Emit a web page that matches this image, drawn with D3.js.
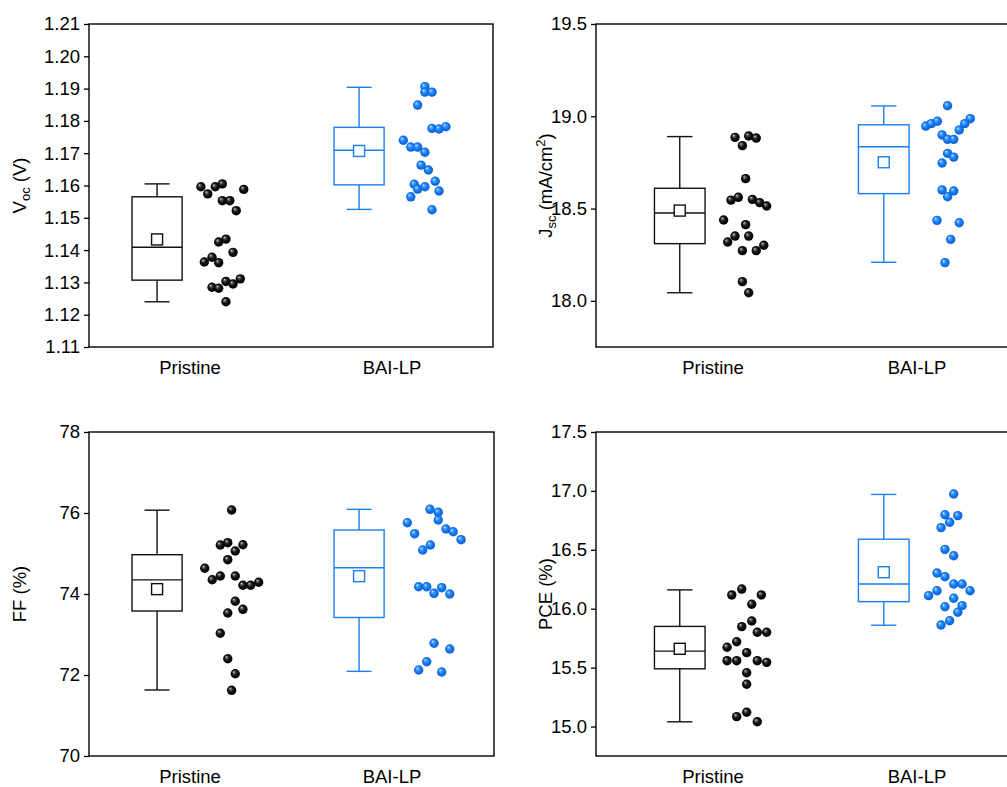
<!DOCTYPE html>
<html>
<head>
<meta charset="utf-8">
<script src="https://cdn.jsdelivr.net/npm/d3@7"></script>
<style>
  body { margin: 0; background: #fff; }
  svg { display: block; }
  text { font-family: "Liberation Sans", Arial, Helvetica, sans-serif; fill: #000; }
</style>
</head>
<body>
<svg id="chart" width="1007" height="787"></svg>
<script>
// ---- data ----
const groups = ["Pristine", "BAI-LP"];

// Voc (V)
const vocPristine = [1.1596, 1.1574, 1.1596, 1.1605, 1.1588, 1.1553, 1.1553, 1.1522, 1.1425, 1.1434,
                     1.1393, 1.1378, 1.1363, 1.1361, 1.1303, 1.1295, 1.1311, 1.1285, 1.1282, 1.1240];
const vocPristineJitter = [0.054, 0.088, 0.125, 0.160, 0.266, 0.160, 0.197, 0.229, 0.142, 0.178,
                           0.213, 0.109, 0.071, 0.142, 0.178, 0.213, 0.249, 0.109, 0.142, 0.178];
const vocBai = [1.1906, 1.1889, 1.1889, 1.1849, 1.1777, 1.1775, 1.1782, 1.1740, 1.1719, 1.1719,
                1.1703, 1.1663, 1.1648, 1.1613, 1.1604, 1.1589, 1.1596, 1.1583, 1.1565, 1.1525];
const vocBaiJitter = [0.163, 0.163, 0.198, 0.127, 0.198, 0.233, 0.267, 0.056, 0.093, 0.127,
                      0.163, 0.144, 0.180, 0.214, 0.110, 0.127, 0.163, 0.233, 0.093, 0.198];
// box: [lower whisker, Q1, median, Q3, upper whisker], plus mean
const vocPristineBox = [1.1240, 1.1307, 1.1409, 1.1565, 1.1605];
const vocPristineMean = 1.1433;
const vocBaiBox = [1.1526, 1.1602, 1.1709, 1.1780, 1.1904];
const vocBaiMean = 1.1707;
const vocTicks = [1.11, 1.12, 1.13, 1.14, 1.15, 1.16, 1.17, 1.18, 1.19, 1.20, 1.21];

// Jsc (mA/cm2)
const jscPristine = [18.886, 18.841, 18.893, 18.882, 18.662, 18.546, 18.561, 18.550, 18.532, 18.514,
                     18.438, 18.413, 18.351, 18.319, 18.351, 18.272, 18.272, 18.301, 18.104, 18.044];
const jscPristineJitter = [0.108, 0.144, 0.175, 0.212, 0.160, 0.088, 0.124, 0.193, 0.229, 0.263,
                           0.052, 0.160, 0.108, 0.072, 0.175, 0.144, 0.212, 0.249, 0.144, 0.175];
const jscBai = [19.057, 18.947, 18.960, 18.973, 18.987, 18.960, 18.926, 18.899, 18.875, 18.875,
                18.799, 18.779, 18.747, 18.601, 18.595, 18.564, 18.436, 18.423, 18.333, 18.207];
const jscBaiJitter = [0.150, 0.043, 0.070, 0.100, 0.261, 0.234, 0.207, 0.123, 0.150, 0.180,
                      0.150, 0.180, 0.123, 0.123, 0.180, 0.150, 0.098, 0.207, 0.165, 0.137];
const jscPristineBox = [18.044, 18.310, 18.476, 18.610, 18.890];
const jscPristineMean = 18.489;
const jscBaiBox = [18.209, 18.581, 18.835, 18.954, 19.056];
const jscBaiMean = 18.751;
const jscTicks = [18.0, 18.5, 19.0, 19.5];

// FF (%)
const ffPristine = [76.074, 75.210, 75.267, 75.217, 75.062, 74.847, 74.635, 74.353, 74.444, 74.444,
                    74.215, 74.215, 74.289, 73.820, 73.531, 73.622, 73.030, 72.402, 72.032, 71.622];
const ffPristineJitter = [0.206, 0.150, 0.187, 0.262, 0.224, 0.187, 0.073, 0.110, 0.150, 0.224,
                          0.262, 0.300, 0.340, 0.224, 0.187, 0.262, 0.150, 0.187, 0.224, 0.206];
const ffBai = [76.091, 76.017, 75.827, 75.760, 75.605, 75.538, 75.341, 75.489, 75.210, 75.086,
               74.180, 74.180, 74.017, 74.156, 74.000, 72.783, 72.642, 72.328, 72.123, 72.074];
const ffBaiJitter = [0.188, 0.229, 0.229, 0.076, 0.267, 0.303, 0.342, 0.112, 0.190, 0.152,
                     0.132, 0.172, 0.208, 0.246, 0.286, 0.208, 0.286, 0.172, 0.132, 0.246];
const ffPristineBox = [71.63, 73.58, 74.35, 74.97, 76.07];
const ffPristineMean = 74.12;
const ffBaiBox = [72.09, 73.42, 74.65, 75.58, 76.09];
const ffBaiMean = 74.44;
const ffTicks = [70, 72, 74, 76, 78];

// PCE (%)
const pcePristine = [16.117, 16.167, 16.117, 16.038, 15.848, 15.896, 15.800, 15.800, 15.673, 15.720,
                     15.627, 15.559, 15.559, 15.559, 15.545, 15.457, 15.359, 15.084, 15.121, 15.041];
const pcePristineJitter = [0.092, 0.141, 0.237, 0.190, 0.141, 0.190, 0.217, 0.263, 0.069, 0.116,
                           0.165, 0.069, 0.116, 0.217, 0.263, 0.165, 0.165, 0.116, 0.165, 0.217];
const pceBai = [16.974, 16.798, 16.790, 16.734, 16.688, 16.504, 16.450, 16.303, 16.272, 16.210,
                16.210, 16.153, 16.153, 16.111, 16.089, 16.017, 16.026, 15.970, 15.898, 15.862];
const pceBaiJitter = [0.180, 0.137, 0.200, 0.160, 0.118, 0.137, 0.180, 0.098, 0.137, 0.180,
                      0.221, 0.260, 0.098, 0.057, 0.180, 0.137, 0.221, 0.200, 0.160, 0.118];
const pcePristineBox = [15.04, 15.49, 15.64, 15.85, 16.16];
const pcePristineMean = 15.66;
const pceBaiBox = [15.86, 16.06, 16.21, 16.59, 16.97];
const pceBaiMean = 16.31;
const pceTicks = [15.0, 15.5, 16.0, 16.5, 17.0, 17.5];

// ---- drawing ----
const svg = d3.select("#chart");
const colors = ["#111111", "#1a7ff0"];
const fontSize = "18.5px";
const titleSize = "18.5px";
const subSize = "13px";

// shaded ball fills
const defs = svg.append("defs");
function ball(id, stops) {
  const g = defs.append("radialGradient").attr("id", id)
    .attr("cx", "50%").attr("cy", "50%").attr("r", "55%")
    .attr("fx", "33%").attr("fy", "30%");
  stops.forEach(([o, c]) => g.append("stop").attr("offset", o).attr("stop-color", c));
}
ball("ballBlack", [["0%", "#e6e6e6"], ["18%", "#6a6a6a"], ["50%", "#111"], ["100%", "#000"]]);
ball("ballBlue", [["0%", "#eaf4ff"], ["20%", "#5eaaff"], ["55%", "#137af2"], ["100%", "#0a5ccc"]]);
const ballFill = ["url(#ballBlack)", "url(#ballBlue)"];

// title pieces: [text, kind]  kind 0 = normal, 1 = subscript, 2 = superscript
const panels = [
  { left: 89, top: 24, w: 404, h: 323, xDomain: [0.5, 2.5], xRange: [89, 493],
    yDomain: [1.11, 1.21], ticks: vocTicks, fmt: d3.format(".2f"),
    title: [["V", 0], ["oc", 1], ["\u00a0(V)", 0]], titleX: 20,
    sets: [[vocPristine, vocPristineJitter, vocPristineBox, vocPristineMean],
           [vocBai, vocBaiJitter, vocBaiBox, vocBaiMean]] },
  { left: 596, top: 24, w: 430, h: 323, xDomain: [0.5, 2.5], xRange: [611, 1019],
    yDomain: [17.75, 19.5], ticks: jscTicks, fmt: d3.format(".1f"),
    title: [["J", 0], ["sc", 1], ["\u00a0(mA/cm", 0], ["2", 2], [")", 0]], titleX: 546,
    sets: [[jscPristine, jscPristineJitter, jscPristineBox, jscPristineMean],
           [jscBai, jscBaiJitter, jscBaiBox, jscBaiMean]] },
  { left: 89, top: 432, w: 405, h: 324, xDomain: [0.5, 2.5], xRange: [89, 493],
    yDomain: [70, 78], ticks: ffTicks, fmt: d3.format("d"),
    title: [["FF (%)", 0]], titleX: 20,
    sets: [[ffPristine, ffPristineJitter, ffPristineBox, ffPristineMean],
           [ffBai, ffBaiJitter, ffBaiBox, ffBaiMean]] },
  { left: 596, top: 432, w: 430, h: 324, xDomain: [0.5, 2.5], xRange: [611, 1019],
    yDomain: [14.75, 17.5], ticks: pceTicks, fmt: d3.format(".1f"),
    title: [["PCE (%)", 0]], titleX: 546,
    sets: [[pcePristine, pcePristineJitter, pcePristineBox, pcePristineMean],
           [pceBai, pceBaiJitter, pceBaiBox, pceBaiMean]] }
];

const boxOffset = -0.163;   // box sits left of the category centre
const boxHalf = 0.124;      // half box width, category units
const capHalf = 0.062;      // half whisker-cap width
const meanSize = 11;        // mean marker side, px
const dotR = 4.7;

panels.forEach(p => {
  const x = d3.scaleLinear().domain(p.xDomain).range(p.xRange);
  const y = d3.scaleLinear().domain(p.yDomain).range([p.top + p.h, p.top]);
  const g = svg.append("g");

  // y axis
  const yAxis = d3.axisLeft(y).tickValues(p.ticks).tickFormat(p.fmt)
    .tickSize(5).tickSizeOuter(0).tickPadding(4);
  const ax = g.append("g").attr("transform", `translate(${p.left},0)`).call(yAxis);
  ax.select(".domain").remove();
  ax.selectAll(".tick line").attr("stroke", "#000").attr("stroke-width", 1.3);
  ax.selectAll(".tick text").style("font-size", fontSize)
    .style("font-family", "'Liberation Sans', Arial, sans-serif").attr("fill", "#000");

  // frame
  g.append("rect").attr("x", p.left).attr("y", p.top)
    .attr("width", p.w).attr("height", p.h)
    .attr("fill", "none").attr("stroke", "#000").attr("stroke-width", 1.4);

  // category labels
  g.selectAll("text.cat").data(groups).join("text").attr("class", "cat")
    .attr("x", (d, i) => x(i + 1)).attr("y", p.top + p.h + 27)
    .attr("text-anchor", "middle").style("font-size", fontSize).text(d => d);

  // y title (baseline shifts tracked so text returns to the main line)
  const t = g.append("text")
    .attr("transform", `translate(${p.titleX + 6},${p.top + p.h / 2}) rotate(-90)`)
    .attr("text-anchor", "middle")
    .style("font-size", titleSize);
  let shift = 0;
  p.title.forEach(([s, k]) => {
    const ts = t.append("tspan").text(s);
    const target = k === 1 ? 4 : k === 2 ? -7 : 0;
    ts.attr("dy", target - shift);
    shift = target;
    if (k !== 0) ts.style("font-size", subSize);
  });

  // boxes and points
  p.sets.forEach(([vals, jit, box, mean], gi) => {
    const c = colors[gi];
    const cx = gi + 1 + boxOffset;
    const bg = g.append("g").attr("stroke", c).attr("stroke-width", 1.4).attr("fill", "none");
    // whiskers
    bg.append("line").attr("x1", x(cx)).attr("x2", x(cx)).attr("y1", y(box[0])).attr("y2", y(box[1]));
    bg.append("line").attr("x1", x(cx)).attr("x2", x(cx)).attr("y1", y(box[3])).attr("y2", y(box[4]));
    [box[0], box[4]].forEach(v => bg.append("line")
      .attr("x1", x(cx - capHalf)).attr("x2", x(cx + capHalf)).attr("y1", y(v)).attr("y2", y(v)));
    // box
    bg.append("rect").attr("x", x(cx - boxHalf)).attr("y", y(box[3]))
      .attr("width", x(cx + boxHalf) - x(cx - boxHalf)).attr("height", y(box[1]) - y(box[3]));
    // median
    bg.append("line").attr("x1", x(cx - boxHalf)).attr("x2", x(cx + boxHalf))
      .attr("y1", y(box[2])).attr("y2", y(box[2]));
    // mean
    bg.append("rect").attr("x", x(cx) - meanSize / 2).attr("y", y(mean) - meanSize / 2)
      .attr("width", meanSize).attr("height", meanSize).attr("fill", "#fff");

    // data points
    g.append("g").selectAll("circle").data(vals).join("circle")
      .attr("cx", (d, i) => x(gi + 1 + jit[i]))
      .attr("cy", d => y(d))
      .attr("r", dotR)
      .attr("fill", ballFill[gi]);
  });
});
</script>
</body>
</html>
